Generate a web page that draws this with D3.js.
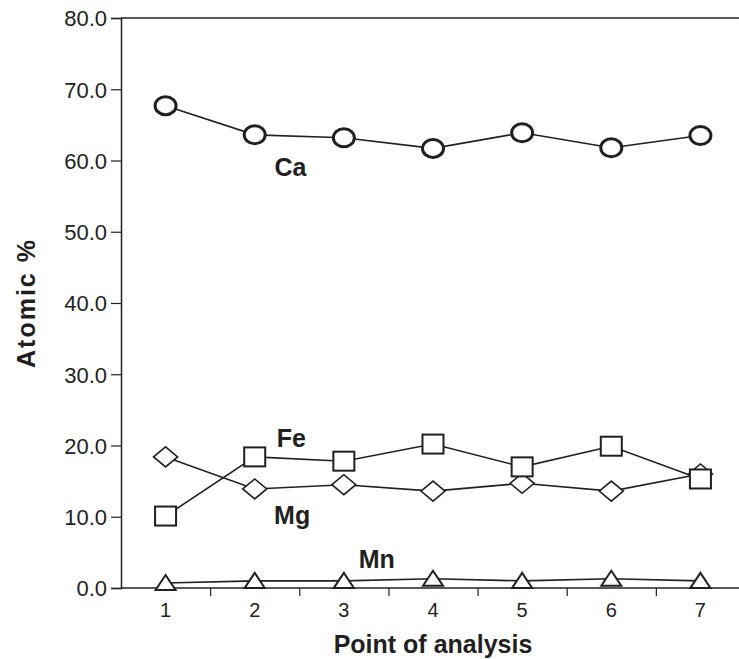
<!DOCTYPE html>
<html>
<head>
<meta charset="utf-8">
<script src="https://cdn.jsdelivr.net/npm/d3@7"></script>
<style>
  body { margin: 0; background: #fff; }
  text { font-family: "Liberation Sans", Arial, sans-serif; fill: #231f20; }
</style>
</head>
<body>
<div id="chart"></div>
<script>
// data
var points = [1, 2, 3, 4, 5, 6, 7];
var ca = [67.7, 63.6, 63.2, 61.7, 63.9, 61.8, 63.5];
var fe = [10.1, 18.4, 17.8, 20.2, 17.0, 19.9, 15.3];
var mg = [18.4, 13.9, 14.5, 13.6, 14.7, 13.6, 16.0];
var mn = [0.7, 1.0, 1.0, 1.3, 1.0, 1.3, 1.0];
var yTicks = [0, 10, 20, 30, 40, 50, 60, 70, 80];

var svgWidth = 739;
var svgHeight = 659;
var margin = { top: 18, right: 0, bottom: 71, left: 121 };
var height = svgHeight - margin.top - margin.bottom;

var svg = d3.select("#chart")
    .append("svg")
    .attr("width", svgWidth)
    .attr("height", svgHeight);

var g = svg.append("g")
    .attr("transform", `translate(${margin.left}, ${margin.top})`);

var x = d3.scaleLinear().domain([0.5, 7.5]).range([0, 624]);
var y = d3.scaleLinear().domain([0, 80]).range([height, 0]);

// top border
g.append("line")
    .attr("x1", 0).attr("x2", svgWidth)
    .attr("y1", 0).attr("y2", 0)
    .attr("stroke", "#231f20").attr("stroke-width", 1.5);

// y axis (lines from d3.axis, labels drawn below)
var yAxis = g.append("g")
    .call(d3.axisLeft(y).tickValues(yTicks).tickFormat("").tickSize(10));
yAxis.select(".domain").attr("stroke", "#231f20").attr("stroke-width", 1.5);
yAxis.selectAll(".tick line").attr("stroke", "#231f20").attr("stroke-width", 1.2);

g.selectAll(".ylab").data(yTicks).enter().append("text")
    .attr("x", -14)
    .attr("y", d => y(d))
    .attr("dy", "0.38em")
    .attr("text-anchor", "end")
    .style("font-size", "22px")
    .text(d3.format(".1f"));

// x axis: tick marks between points, labels under points
var xAxis = g.append("g")
    .attr("transform", `translate(0, ${height})`)
    .call(d3.axisBottom(x).tickValues([1.5, 2.5, 3.5, 4.5, 5.5, 6.5]).tickFormat("").tickSize(8).tickSizeOuter(0));
xAxis.select(".domain").attr("stroke", "#231f20").attr("stroke-width", 1.5)
    .attr("d", `M0,0H${svgWidth}`);
xAxis.selectAll(".tick line").attr("stroke", "#231f20").attr("stroke-width", 1.2);

g.selectAll(".xlab").data(points).enter().append("text")
    .attr("x", d => x(d))
    .attr("y", height + 29)
    .attr("text-anchor", "middle")
    .style("font-size", "20px")
    .text(d => d);

// lines
var line = d3.line()
    .x((d, i) => x(points[i]))
    .y(d => y(d));

[ca, fe, mg, mn].forEach(function(s) {
    g.append("path")
        .datum(s)
        .attr("d", line)
        .attr("fill", "none")
        .attr("stroke", "#231f20")
        .attr("stroke-width", 1.6);
});

// markers
g.selectAll(".mn").data(mn).enter().append("path")
    .attr("transform", (d, i) => `translate(${x(points[i])}, ${y(d)})`)
    .attr("d", "M-10,7L0,-8L10,7Z")
    .attr("fill", "#fff").attr("stroke", "#231f20").attr("stroke-width", 2);

g.selectAll(".mg").data(mg).enter().append("path")
    .attr("transform", (d, i) => `translate(${x(points[i])}, ${y(d)})`)
    .attr("d", "M-12,0L0,-10L12,0L0,10Z")
    .attr("fill", "#fff").attr("stroke", "#231f20").attr("stroke-width", 1.6);

g.selectAll(".fe").data(fe).enter().append("rect")
    .attr("x", (d, i) => x(points[i]) - 10.5)
    .attr("y", d => y(d) - 9.5)
    .attr("width", 21).attr("height", 19)
    .attr("fill", "#fff").attr("stroke", "#231f20").attr("stroke-width", 2);

g.selectAll(".ca").data(ca).enter().append("ellipse")
    .attr("cx", (d, i) => x(points[i]))
    .attr("cy", d => y(d))
    .attr("rx", 10.5).attr("ry", 9)
    .attr("fill", "#fff").attr("stroke", "#231f20").attr("stroke-width", 3);

// series labels
var labels = [
    { t: "Ca", px: 2.40, v: 57.8 },
    { t: "Fe", px: 2.41, v: 19.8 },
    { t: "Mg", px: 2.42, v: 9.0 },
    { t: "Mn", px: 3.37, v: 2.8 }
];
g.selectAll(".lab").data(labels).enter().append("text")
    .attr("x", d => x(d.px))
    .attr("y", d => y(d.v))
    .attr("text-anchor", "middle")
    .style("font-size", "25px")
    .style("font-weight", "bold")
    .text(d => d.t);

// axis titles
svg.append("text")
    .attr("transform", `translate(35, 303) rotate(-90)`)
    .attr("text-anchor", "middle")
    .style("font-size", "25px")
    .style("font-weight", "bold")
    .style("letter-spacing", "2px")
    .text("Atomic %");

svg.append("text")
    .attr("x", margin.left + x(4))
    .attr("y", 653)
    .attr("text-anchor", "middle")
    .style("font-size", "25px")
    .style("font-weight", "bold")
    .text("Point of analysis");
</script>
</body>
</html>
